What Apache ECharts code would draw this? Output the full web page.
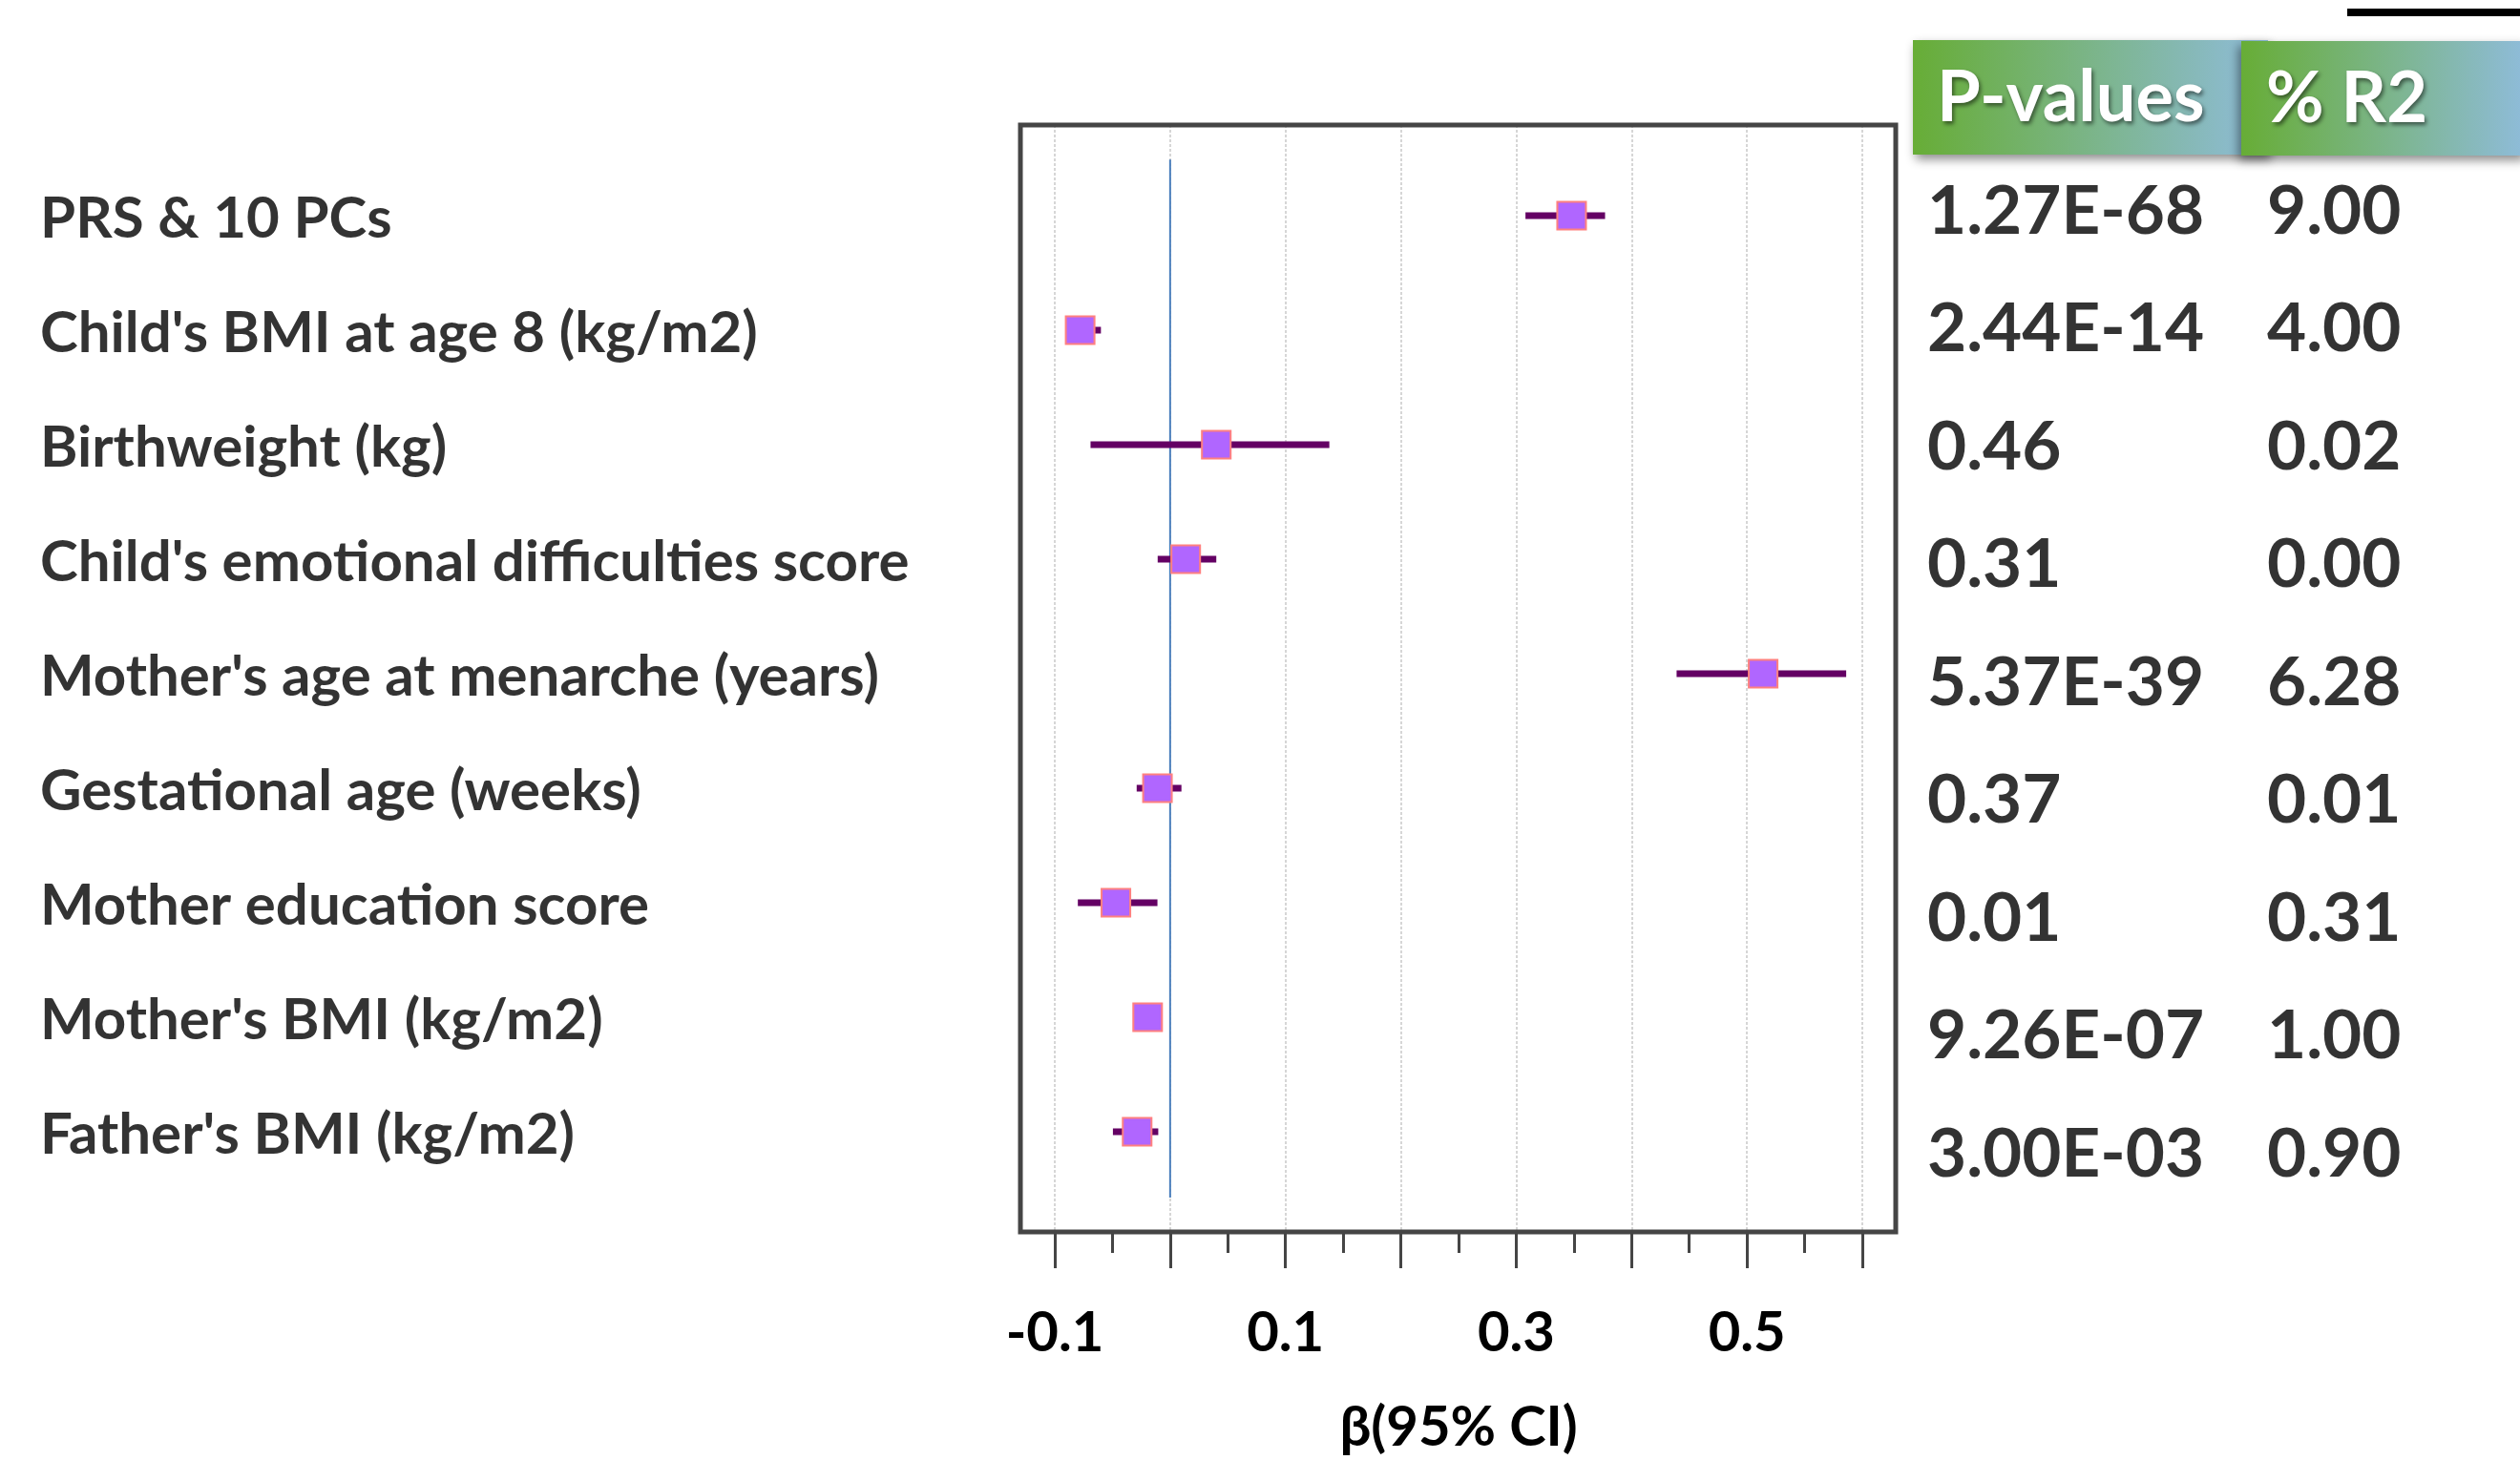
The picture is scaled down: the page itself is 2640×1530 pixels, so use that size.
<!DOCTYPE html>
<html>
<head>
<meta charset="utf-8">
<style>
  html, body { margin: 0; padding: 0; background: #ffffff; }
  #chart { width: 2640px; height: 1530px; }
</style>
<script src="https://cdn.jsdelivr.net/npm/echarts@6/dist/echarts.min.js"></script>
</head>
<body>
<div id="chart"></div>
<script>
// ---------------- data ----------------
const categories = [
  "PRS & 10 PCs",
  "Child's BMI at age 8 (kg/m2)",
  "Birthweight (kg)",
  "Child's emotional difficulties score",
  "Mother's age at menarche (years)",
  "Gestational age (weeks)",
  "Mother education score",
  "Mother's BMI (kg/m2)",
  "Father's BMI (kg/m2)"
];
const beta   = [0.348, -0.078, 0.040, 0.0135, 0.514, -0.011, -0.047, -0.0195, -0.0286];
const ciLow  = [0.308, -0.086, -0.069, -0.0108, 0.439, -0.029, -0.080, -0.025, -0.0496];
const ciHigh = [0.377, -0.060, 0.138, 0.040, 0.586, 0.0098, -0.011, -0.014, -0.0103];
const pValues = ["1.27E-68", "2.44E-14", "0.46", "0.31", "5.37E-39", "0.37", "0.01", "9.26E-07", "3.00E-03"];
const r2Values = ["9.00", "4.00", "0.02", "0.00", "6.28", "0.01", "0.31", "1.00", "0.90"];
const tableHeaders = ["P-values", "% R2"];
const xTickLabels = ["-0.1", "0.1", "0.3", "0.5"];
const xAxisName = "\u03b2(95% CI)";
const refValue = 0;

// ---------------- layout ----------------
const FONT = "Lato";
const plotTop = 131, plotHeight = 1160;
const yMin = 0.208, yMax = 9.875;
const pxPerUnit = 1208.6;
const xAxisMin = -0.1, xAxisMax = 0.6;
const axisLeft = 1105;
const boxLeft = 1069, boxWidth = 917;

const rows = categories.map((c, i) => i + 1);

const chart = echarts.init(document.getElementById('chart'), null, { renderer: 'canvas' });

const gradient = new echarts.graphic.LinearGradient(0, 0, 1, 0, [
  { offset: 0, color: '#67ad36' },
  { offset: 1, color: '#8fbcdb' }
]);
const gradient2 = new echarts.graphic.LinearGradient(0, 0, 1, 0, [
  { offset: 0, color: '#67ad36' },
  { offset: 1, color: '#8fbcdb' }
]);

const option = {
  backgroundColor: '#ffffff',
  animation: false,
  grid: [
    // 0: framed box
    { left: boxLeft, top: plotTop, width: boxWidth, height: plotHeight, show: true,
      borderColor: '#454545', borderWidth: 5, backgroundColor: 'transparent', z: 5 },
    // 1: data axis
    { left: axisLeft, top: plotTop, width: (xAxisMax - xAxisMin) * pxPerUnit, height: plotHeight, show: false },
    // 2: left labels
    { left: 42, top: plotTop, width: 100, height: plotHeight, show: false },
    // 3: table
    { left: 2019, top: 93.5, width: 356, height: 1235, show: false }
  ],
  xAxis: [
    { gridIndex: 0, type: 'value', min: 0, max: 1, show: false },
    { gridIndex: 1, type: 'value', min: xAxisMin, max: xAxisMax, interval: 0.1,
      axisLine: { show: false },
      axisTick: { show: true, length: 38, lineStyle: { color: '#454545', width: 3 } },
      minorTick: { show: true, splitNumber: 2, length: 22, lineStyle: { color: '#454545', width: 3 } },
      splitLine: { show: true, lineStyle: { color: '#d6d6d6', width: 2, type: [3, 2] } },
      axisLabel: {
        margin: 77, fontFamily: FONT, fontWeight: 'bold', fontSize: 58, color: '#000',
        formatter: v => { const s = (Math.round(v * 10) / 10).toFixed(1); return xTickLabels.indexOf(s) >= 0 ? s : ''; }
      },
      name: xAxisName, nameLocation: 'middle', nameGap: 176,
      nameTextStyle: { fontFamily: FONT, fontWeight: 'bold', fontSize: 58, color: '#000' }
    },
    { gridIndex: 2, type: 'value', min: 0, max: 1, show: false },
    { gridIndex: 3, type: 'value', min: 0, max: 1, show: false }
  ],
  yAxis: [
    { gridIndex: 0, type: 'value', min: 0, max: 1, show: false },
    { gridIndex: 1, type: 'value', min: yMin, max: yMax, inverse: true, show: false },
    { gridIndex: 2, type: 'value', min: yMin, max: yMax, inverse: true, show: false },
    { gridIndex: 3, type: 'value', min: 0, max: 10, inverse: true, show: false }
  ],
  series: [
    {
      name: 'ref', type: 'line', xAxisIndex: 1, yAxisIndex: 1, symbol: 'none', silent: true,
      data: [[refValue, 0.51], [refValue, 9.575]],
      lineStyle: { color: '#4b7fbd', width: 2 }, z: 2
    },
    {
      name: 'ci', type: 'custom', xAxisIndex: 1, yAxisIndex: 1, z: 3,
      data: rows.map((r, i) => [ciLow[i], ciHigh[i], r]),
      encode: { x: [0, 1], y: 2 },
      renderItem: (params, api) => {
        const a = api.coord([api.value(0), api.value(2)]);
        const b = api.coord([api.value(1), api.value(2)]);
        return { type: 'line', shape: { x1: a[0], y1: a[1], x2: b[0], y2: b[1] },
                 style: { stroke: '#640064', lineWidth: 7 } };
      }
    },
    {
      name: 'beta', type: 'scatter', xAxisIndex: 1, yAxisIndex: 1, z: 4,
      symbol: 'rect', symbolSize: [30, 29],
      data: rows.map((r, i) => [beta[i], r]),
      itemStyle: { color: '#b066ff', borderColor: '#ff8080', borderWidth: 2, opacity: 1 }
    },
    {
      name: 'labels', type: 'scatter', xAxisIndex: 2, yAxisIndex: 2, symbolSize: 0, silent: true,
      data: rows.map((r, i) => ({ value: [0, r], name: categories[i] })),
      label: { show: true, position: 'right', distance: 0, offset: [0, 4], formatter: p => p.name,
               fontFamily: FONT, fontWeight: 'bold', fontSize: 60, color: '#000' }
    },
    {
      name: 'pvals', type: 'scatter', xAxisIndex: 3, yAxisIndex: 3, symbolSize: 0, silent: true,
      data: rows.map((r, i) => ({ value: [0, r], name: pValues[i] })),
      label: { show: true, position: 'right', distance: 0, offset: [0, 5], formatter: p => p.name,
               fontFamily: FONT, fontWeight: 'bold', fontSize: 71, color: '#000' }
    },
    {
      name: 'r2', type: 'scatter', xAxisIndex: 3, yAxisIndex: 3, symbolSize: 0, silent: true,
      data: rows.map((r, i) => ({ value: [1, r], name: r2Values[i] })),
      label: { show: true, position: 'right', distance: 0, offset: [0, 5], formatter: p => p.name,
               fontFamily: FONT, fontWeight: 'bold', fontSize: 71, color: '#000' }
    }
  ],
  graphic: [
    { type: 'rect', left: 2459, top: 9, shape: { width: 181, height: 8 }, style: { fill: '#000' } },
    { type: 'rect', x: 2004, y: 42, shape: { width: 372, height: 120 },
      style: { fill: gradient, shadowBlur: 10, shadowOffsetX: 3, shadowOffsetY: 5, shadowColor: 'rgba(0,0,0,0.45)' }, z: 10 },
    { type: 'text', x: 2029, y: 103, z: 11,
      style: { text: tableHeaders[0], fill: '#fff', fontFamily: FONT, fontWeight: 'bold', fontSize: 74,
               verticalAlign: 'middle', textShadowColor: 'rgba(0,0,0,0.5)', textShadowBlur: 4,
               textShadowOffsetX: 2, textShadowOffsetY: 3 } },
    { type: 'rect', x: 2348, y: 43, shape: { width: 300, height: 120 },
      style: { fill: gradient2, shadowBlur: 10, shadowOffsetX: -3, shadowOffsetY: 5, shadowColor: 'rgba(0,0,0,0.45)' }, z: 12 },
    { type: 'text', x: 2374, y: 104, z: 13,
      style: { text: tableHeaders[1], fill: '#fff', fontFamily: FONT, fontWeight: 'bold', fontSize: 74,
               verticalAlign: 'middle', textShadowColor: 'rgba(0,0,0,0.5)', textShadowBlur: 4,
               textShadowOffsetX: 2, textShadowOffsetY: 3 } }
  ]
};

chart.setOption(option);
</script>
</body>
</html>
